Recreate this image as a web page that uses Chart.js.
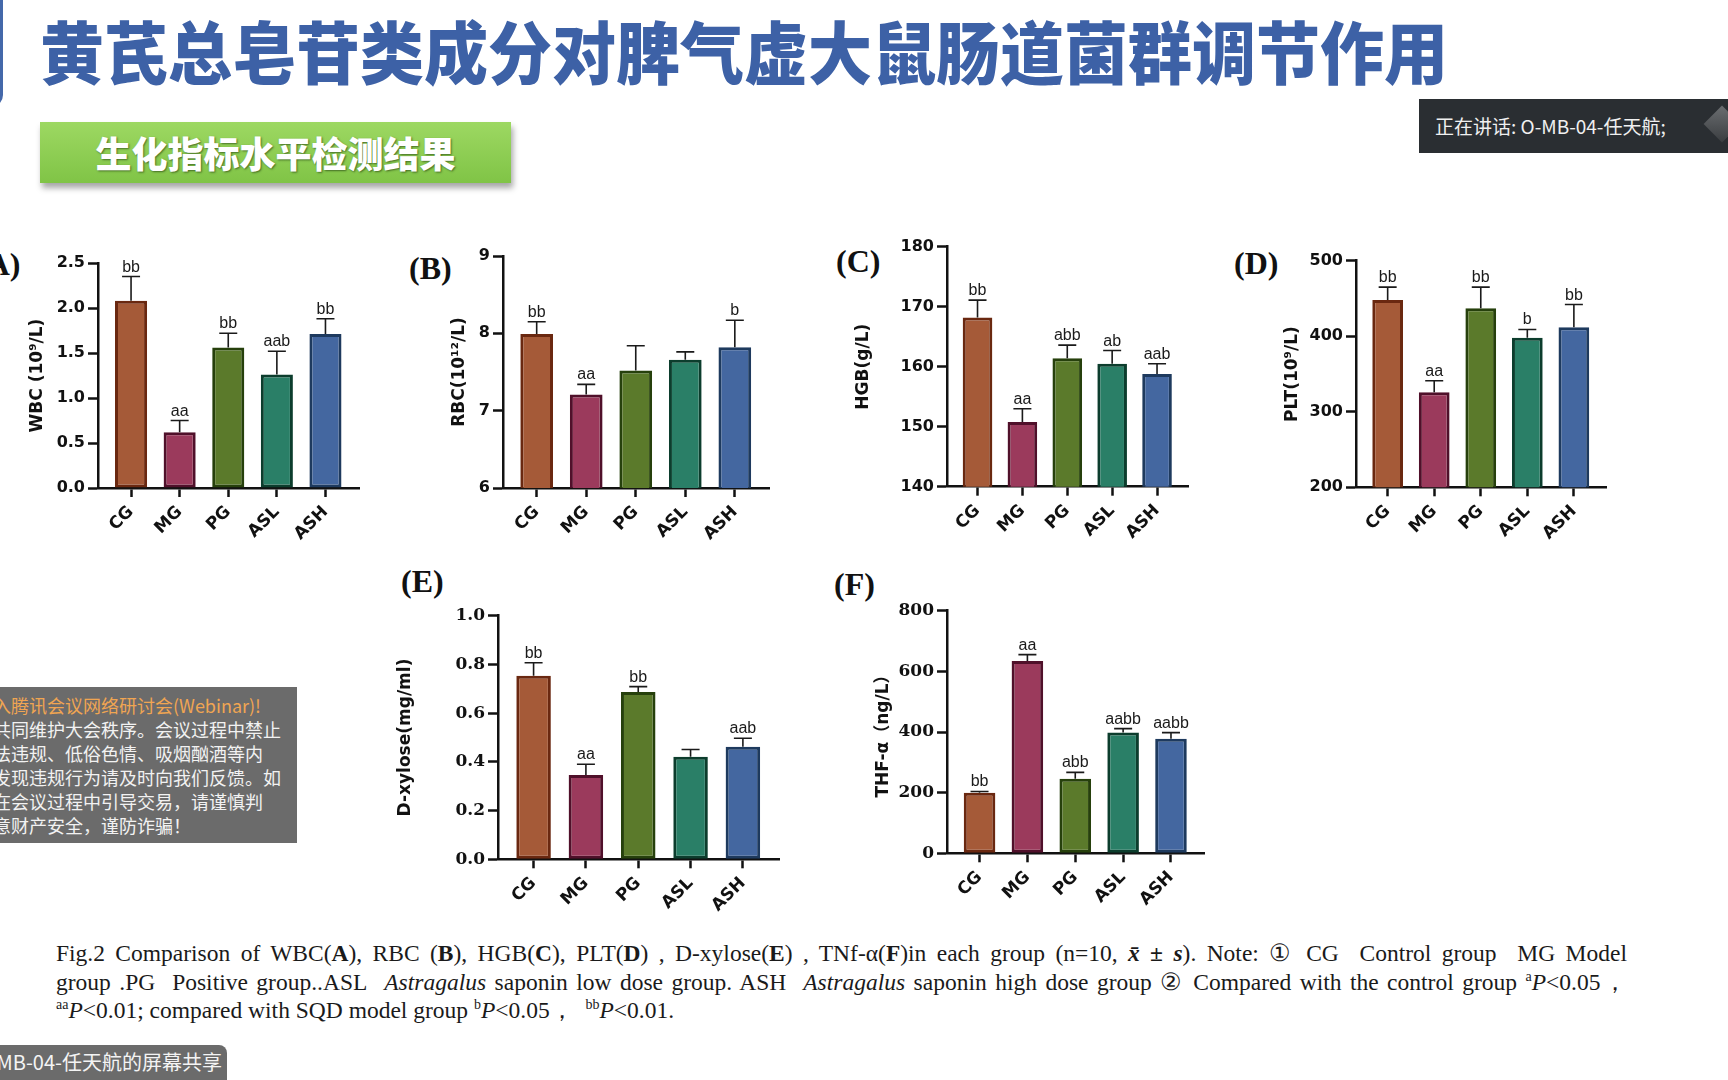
<!DOCTYPE html>
<html>
<head>
<meta charset="utf-8">
<script src="https://cdn.jsdelivr.net/npm/chart.js@4.4.1/dist/chart.umd.min.js"></script>
<style>
  html, body { margin: 0; padding: 0; }
  body { width: 1728px; height: 1080px; overflow: hidden; background: #fff; position: relative; font-family: "Noto Sans CJK SC", sans-serif; }
  canvas { position: absolute; }
  .frame { position: absolute; left: -20px; top: -20px; width: 23px; height: 127px; box-sizing: border-box;
           border: 3px solid #4468aa; border-radius: 0 0 12px 0; }
  .title { position: absolute; left: 40px; top: 15px; font-size: 64px; line-height: 64px; font-weight: 900;
           color: #3d61a6; white-space: nowrap; transform: scaleY(1.06); transform-origin: 0 0; }
  .tag { position: absolute; left: 40px; top: 122px; width: 471px; height: 61px;
         background: linear-gradient(#9dd862, #80c446); box-shadow: 2px 5px 6px rgba(0,0,0,0.35);
         color: #fff; font-size: 36px; font-weight: 900; line-height: 61px; text-align: center;
         text-shadow: 1px 1px 2px rgba(40,70,20,0.7); }
  .speaker { position: absolute; left: 1419px; top: 99px; width: 309px; height: 54px; background: #2a2e32;
             color: #f0f0f0; font-size: 19px; line-height: 54px; padding-left: 16px; box-sizing: border-box; overflow: hidden; }
  .speaker .ico { position: absolute; left: 290px; top: 12px; width: 26px; height: 26px; transform: rotate(45deg);
                  background: linear-gradient(135deg, #6a6d70, #3a3d40); }
  .panel { position: absolute; font-family: "Liberation Serif", serif; font-weight: bold; font-size: 32px; line-height: 32px; color: #111; }
  .notice { position: absolute; left: 0; top: 687px; width: 297px; height: 156px; background: #6b6b6b; overflow: hidden; }
  .notice div { position: absolute; left: -7px; white-space: nowrap; font-size: 18px; line-height: 24px; color: #f2f2f2; }
  .share { position: absolute; left: 0; top: 1045px; width: 227px; height: 40px; background: #6b6b6b; border-radius: 0 8px 0 0;
           overflow: hidden; color: #f4f4f4; font-size: 20px; line-height: 34px; text-align: right; padding-right: 5px;
           box-sizing: border-box; white-space: nowrap; direction: rtl; }
  .caption { position: absolute; left: 56px; width: 1571px; font-family: "Liberation Serif", serif; font-size: 23.5px;
             line-height: 28.5px; color: #1a1a1a; white-space: nowrap; }
  .caption.j { text-align: justify; text-align-last: justify; }
  .caption sup { font-size: 14px; line-height: 0; }
</style>
</head>
<body>
<div class="frame"></div>
<div class="title">黄芪总皂苷类成分对脾气虚大鼠肠道菌群调节作用</div>
<div class="tag">生化指标水平检测结果</div>
<div class="speaker">正在讲话: O-MB-04-任天航;<div class="ico"></div></div>

<div class="panel" style="left:-24px;top:248px">(A)</div>
<div class="panel" style="left:409px;top:252px">(B)</div>
<div class="panel" style="left:836px;top:245px">(C)</div>
<div class="panel" style="left:1234px;top:247px">(D)</div>
<div class="panel" style="left:401px;top:565px">(E)</div>
<div class="panel" style="left:834px;top:568px">(F)</div>

<canvas id="chartA"></canvas>
<canvas id="chartB"></canvas>
<canvas id="chartC"></canvas>
<canvas id="chartD"></canvas>
<canvas id="chartE"></canvas>
<canvas id="chartF"></canvas>

<div class="notice">
  <div style="top:6px;color:#f0a552">入腾讯会议网络研讨会(Webinar)!</div>
  <div style="top:30px">共同维护大会秩序。会议过程中禁止</div>
  <div style="top:54px">法违规、低俗色情、吸烟酗酒等内</div>
  <div style="top:78px">发现违规行为请及时向我们反馈。如</div>
  <div style="top:102px">在会议过程中引导交易，请谨慎判</div>
  <div style="top:126px">意财产安全，谨防诈骗！</div>
</div>
<div class="share"><span dir="ltr">O-MB-04-任天航的屏幕共享</span></div>

<div class="caption j" style="top:939px">Fig.2 Comparison of WBC(<b>A</b>), RBC (<b>B</b>), HGB(<b>C</b>), PLT(<b>D</b>) , D-xylose(<b>E</b>) , TNf-α(<b>F</b>)in each group (n=10, <b><i>x̄</i> ± <i>s</i></b>). Note: ① CG&nbsp; Control group&nbsp; MG Model</div>
<div class="caption j" style="top:967.5px">group .PG&nbsp; Positive group..ASL&nbsp; <i>Astragalus</i> saponin low dose group. ASH&nbsp; <i>Astragalus</i> saponin high dose group ② Compared with the control group <sup>a</sup><i>P</i>&lt;0.05，</div>
<div class="caption" style="top:996px"><sup>aa</sup><i>P</i>&lt;0.01; compared with SQD model group <sup>b</sup><i>P</i>&lt;0.05，&nbsp; <sup>bb</sup><i>P</i>&lt;0.01.</div>

<script>
// groups and colours
const groups = ['CG', 'MG', 'PG', 'ASL', 'ASH'];
const fills = ['#a55a38', '#9b3a5c', '#5b7a2b', '#2a7f67', '#4467a0'];
const edges = ['#6a2810', '#50102a', '#26400c', '#0c3d2d', '#1e3a5e'];

// (A) WBC
const wbcMean = [2.08, 0.62, 1.56, 1.26, 1.71];
const wbcSd = [0.27, 0.13, 0.16, 0.26, 0.17];
const wbcSig = ['bb', 'aa', 'bb', 'aab', 'bb'];
// (B) RBC
const rbcMean = [7.99, 7.21, 7.52, 7.66, 7.82];
const rbcSd = [0.16, 0.13, 0.32, 0.10, 0.35];
const rbcSig = ['bb', 'aa', '', '', 'b'];
// (C) HGB
const hgbMean = [168.2, 150.8, 161.4, 160.5, 158.8];
const hgbSd = [2.9, 2.2, 2.2, 2.2, 1.7];
const hgbSig = ['bb', 'aa', 'abb', 'ab', 'aab'];
// (D) PLT
const pltMean = [448, 326, 437, 398, 412];
const pltSd = [17, 15, 28, 11, 30];
const pltSig = ['bb', 'aa', 'bb', 'b', 'bb'];
// (E) D-xylose
const xylMean = [0.754, 0.346, 0.687, 0.421, 0.462];
const xylSd = [0.053, 0.044, 0.022, 0.030, 0.035];
const xylSig = ['bb', 'aa', 'bb', '', 'aab'];
// (F) THF-a
const tnfMean = [200, 634, 246, 398, 378];
const tnfSd = [4, 21, 21, 13, 20];
const tnfSig = ['bb', 'aa', 'abb', 'aabb', 'aabb'];

// error bars + significance letters
const errBars = {
  id: 'errBars',
  afterDatasetsDraw(chart) {
    const ctx = chart.ctx;
    const ds = chart.data.datasets[0];
    const meta = chart.getDatasetMeta(0);
    const y = chart.scales.y;
    ctx.save();
    ctx.strokeStyle = '#1a1a1a';
    ctx.fillStyle = '#1a1a1a';
    ctx.lineWidth = 1.6;
    ctx.font = '16px "Liberation Sans", Arial, sans-serif';
    ctx.textAlign = 'center';
    ctx.textBaseline = 'alphabetic';
    meta.data.forEach(function(bar, i) {
      const top = y.getPixelForValue(ds.data[i] + ds.sd[i]);
      ctx.beginPath();
      ctx.moveTo(bar.x, bar.y);
      ctx.lineTo(bar.x, top);
      ctx.moveTo(bar.x - 9, top);
      ctx.lineTo(bar.x + 9, top);
      ctx.stroke();
      if (ds.sig[i]) ctx.fillText(ds.sig[i], bar.x, top - 5);
    });
    ctx.restore();
  }
};

function panel(id, box, axis, mean, sd, sig, ymin, ymax, ystep, digits, ytitle, titleX, tickFamily, tickSize) {
  const cv = document.getElementById(id);
  cv.width = box.w; cv.height = box.h;
  cv.style.left = box.x + 'px'; cv.style.top = box.y + 'px';
  const titleSize = 17;
  new Chart(cv.getContext('2d'), {
    type: 'bar',
    data: {
      labels: groups.map(function(g, i) { return i; }),
      datasets: [{
        data: mean, sd: sd, sig: sig,
        backgroundColor: fills, borderColor: edges, borderWidth: 3, borderSkipped: false,
        barPercentage: 0.66, categoryPercentage: 1
      }]
    },
    options: {
      responsive: false, animation: false,
      layout: { padding: { top: axis.top - box.y, right: box.x + box.w - axis.right, left: 0, bottom: 0 } },
      plugins: { legend: { display: false }, tooltip: { enabled: false } },
      scales: {
        x: {
          type: 'linear', min: -0.68, max: 4.69, offset: false,
          grid: { display: true, drawOnChartArea: false, drawTicks: true, tickLength: 9, tickWidth: 2.5, tickColor: '#111', offset: false },
          border: { display: true, color: '#111', width: 2.5 },
          ticks: {
            stepSize: 1, includeBounds: false, autoSkip: false, minRotation: 45, maxRotation: 45, padding: 5,
            color: '#111', font: { family: '"DejaVu Sans", sans-serif', weight: 'bold', size: 17 },
            callback: function(v) { return groups[Math.round(v)]; }
          },
          afterFit: function(s) { s.height = box.y + box.h - axis.bottom; }
        },
        y: {
          min: ymin, max: ymax, beginAtZero: false,
          grid: { display: true, drawOnChartArea: false, drawTicks: true, tickLength: 10, tickWidth: 2.5, tickColor: '#111' },
          border: { display: true, color: '#111', width: 2.5 },
          ticks: {
            stepSize: ystep, padding: 3, color: '#111',
            font: { family: tickFamily, weight: 'bold', size: tickSize },
            callback: function(v) { return Number(v).toFixed(digits); }
          },
          title: {
            display: true, text: ytitle, color: '#111',
            font: { family: '"DejaVu Sans", "Noto Sans CJK SC", sans-serif', weight: 'bold', size: titleSize },
            padding: { top: titleX - box.x - titleSize * 0.6, bottom: 0 }
          },
          afterFit: function(s) { s.width = axis.left - box.x; }
        }
      }
    },
    plugins: [errBars]
  });
}

const sans = '"DejaVu Sans", sans-serif';
const serif = '"DejaVu Serif", serif';

panel('chartA', {x: 0, y: 230, w: 380, h: 320}, {left: 98, top: 263, right: 359, bottom: 488},
      wbcMean, wbcSd, wbcSig, 0, 2.5, 0.5, 1, 'WBC (10⁹/L)', 38, sans, 16);
panel('chartB', {x: 400, y: 230, w: 390, h: 320}, {left: 503, top: 256, right: 769, bottom: 488},
      rbcMean, rbcSd, rbcSig, 6, 9, 1, 0, 'RBC(10¹²/L)', 460, sans, 16);
panel('chartC', {x: 820, y: 220, w: 390, h: 330}, {left: 947, top: 246.7, right: 1188, bottom: 486.7},
      hgbMean, hgbSd, hgbSig, 140, 180, 10, 0, 'HGB(g/L)', 864, sans, 16);
panel('chartD', {x: 1230, y: 230, w: 400, h: 320}, {left: 1356, top: 260.7, right: 1606, bottom: 487.3},
      pltMean, pltSd, pltSig, 200, 500, 100, 0, 'PLT(10⁹/L)', 1293, sans, 16);
panel('chartE', {x: 380, y: 590, w: 420, h: 330}, {left: 498, top: 615.7, right: 779, bottom: 859.3},
      xylMean, xylSd, xylSig, 0, 1.0, 0.2, 1, 'D-xylose(mg/ml)', 406, serif, 17);
panel('chartF', {x: 820, y: 590, w: 400, h: 330}, {left: 947, top: 610.7, right: 1204, bottom: 853.3},
      tnfMean, tnfSd, tnfSig, 0, 800, 200, 0, 'THF-α（ng/L）', 884, serif, 17);
</script>
</body>
</html>
